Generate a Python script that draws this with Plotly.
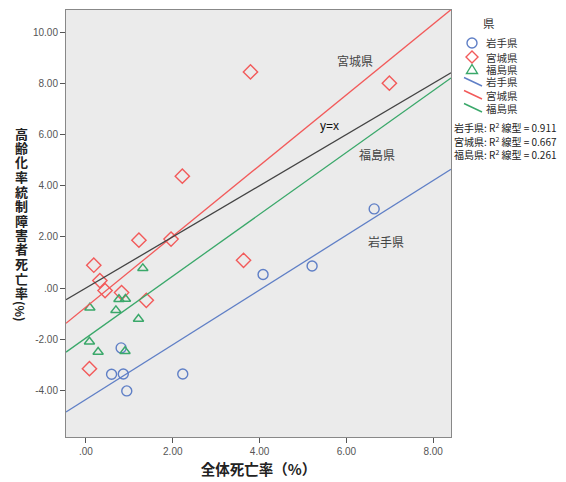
import numpy as np
import plotly.graph_objects as go

# ---- data ----
iwate_x = [6.64, 5.21, 4.08, 0.81, 0.59, 0.86, 2.23, 0.94]
iwate_y = [3.09, 0.86, 0.53, -2.34, -3.37, -3.36, -3.36, -4.02]

miyagi_x = [3.79, 6.99, 2.22, 1.22, 1.96, 0.18, 0.32, 0.44, 0.82, 1.39, 3.63, 0.08]
miyagi_y = [8.44, 8.00, 4.37, 1.87, 1.91, 0.89, 0.29, -0.10, -0.18, -0.48, 1.08, -3.15]

fukushima_x = [1.31, 0.09, 0.76, 0.91, 0.69, 1.21, 0.08, 0.28, 0.90]
fukushima_y = [0.77, -0.77, -0.44, -0.43, -0.87, -1.21, -2.10, -2.50, -2.47]

prefectures = ["岩手県", "宮城県", "福島県"]
r2_values = ["0.911", "0.667", "0.261"]

x_ticks = [0, 2, 4, 6, 8]
x_ticktext = [".00", "2.00", "4.00", "6.00", "8.00"]
y_ticks = [-4, -2, 0, 2, 4, 6, 8, 10]
y_ticktext = ["-4.00", "-2.00", ".00", "2.00", "4.00", "6.00", "8.00", "10.00"]

x_range = [-0.46, 8.41]
y_range = [-5.82, 10.86]

blue = "#5f7fc6"
red = "#f25a5a"
green = "#3aa86a"
colors = [blue, red, green]

# page geometry (browser body has an 8px margin)
OFF = 8
PL, PR, PT, PB = 66, 451, 10, 437   # plot area in page pixels
W, H = 566 - OFF, 482 - OFF


def pp(px, py):
    """page pixel -> paper coords"""
    return (px - PL) / (PR - PL), 1 - (py - PT) / (PB - PT)


fig = go.Figure()

fig.add_trace(go.Scatter(x=iwate_x, y=iwate_y, mode="markers", name="岩手県",
                         marker=dict(symbol="circle-open", size=10, color=blue, line=dict(width=1.4))))
fig.add_trace(go.Scatter(x=miyagi_x, y=miyagi_y, mode="markers", name="宮城県",
                         marker=dict(symbol="diamond-open", size=11, color=red, line=dict(width=1.4))))
fig.add_trace(go.Scatter(x=fukushima_x, y=fukushima_y, mode="markers", name="福島県",
                         marker=dict(symbol="triangle-up-open", size=9, color=green, line=dict(width=1.4))))

xx = np.array(x_range)
for xs, ys, nm, c in [(iwate_x, iwate_y, "岩手県", blue),
                      (miyagi_x, miyagi_y, "宮城県", red),
                      (fukushima_x, fukushima_y, "福島県", green)]:
    k, b = np.polyfit(xs, ys, 1)
    fig.add_trace(go.Scatter(x=xx, y=k * xx + b, mode="lines", name=nm,
                             line=dict(color=c, width=1.3)))

fig.add_trace(go.Scatter(x=xx, y=xx, mode="lines", name="y=x",
                         line=dict(color="#444444", width=1.3)))

fig.update_layout(
    width=W, height=H,
    margin=dict(l=PL - OFF, r=W - (PR - OFF), t=PT - OFF, b=H - (PB - OFF), autoexpand=False),
    paper_bgcolor="white",
    plot_bgcolor="#ebebeb",
    font=dict(family="Noto Sans CJK JP, Arial", size=11, color="#333333"),
    showlegend=False,
    xaxis=dict(range=x_range, tickvals=x_ticks, ticktext=x_ticktext, showgrid=False,
               zeroline=False, showline=True, linecolor="#888888", mirror=True,
               ticks="outside", ticklen=5, tickcolor="#555555",
               tickfont=dict(family="Arial", size=10, color="#555555"),
               title=dict(text="<b>全体死亡率（%）</b>", font=dict(size=14.5, color="#222222"), standoff=8)),
    yaxis=dict(range=y_range, tickvals=y_ticks, ticktext=y_ticktext, showgrid=False,
               zeroline=False, showline=True, linecolor="#888888", mirror=True,
               ticks="outside", ticklen=5, tickcolor="#555555",
               tickfont=dict(family="Arial", size=10, color="#555555")),
)

# vertical y-axis title (upright CJK characters stacked)
ytitle = "高齢化率統制障害者死亡率"
for i, ch in enumerate(ytitle):
    ax_, ay_ = pp(21, 133 + 14.5 * i)
    fig.add_annotation(text="<b>" + ch + "</b>", xref="paper", yref="paper", x=ax_, y=ay_,
                       xanchor="center", yanchor="middle", showarrow=False,
                       font=dict(size=13, color="#222222"))
ax_, ay_ = pp(21, 311)
fig.add_annotation(text="<b>(%)</b>", xref="paper", yref="paper", x=ax_, y=ay_,
                   xanchor="center", yanchor="middle", showarrow=False,
                   textangle=90, font=dict(size=12, color="#222222"))

# labels inside plot
for txt, ax, ay in [("宮城県", 6.20, 8.87), ("y=x", 5.62, 6.33), ("福島県", 6.71, 5.23), ("岩手県", 6.91, 1.80)]:
    fig.add_annotation(text=txt, x=ax, y=ay, xref="x", yref="y", showarrow=False,
                       font=dict(size=12, color="#111111" if txt == "y=x" else "#444444",
                                 family="Arial, Noto Sans CJK JP" if txt == "y=x" else "Noto Sans CJK JP"))

# ---- legend (drawn manually to match the compact layout) ----
tx, ty = pp(489, 23)
fig.add_annotation(text="県", xref="paper", yref="paper", x=tx, y=ty, showarrow=False,
                   xanchor="center", yanchor="middle", font=dict(size=11.5, color="#333333"))

sym_y = [43, 57, 69.5]
line_y = [82, 95, 108]
cx = 472
# circle
x0, y0 = pp(cx - 5, sym_y[0] - 5)
x1, y1 = pp(cx + 5, sym_y[0] + 5)
fig.add_shape(type="circle", xref="paper", yref="paper", x0=x0, x1=x1, y0=y1, y1=y0,
              line=dict(color=blue, width=1.4))
# diamond
pts = [pp(cx, sym_y[1] - 6), pp(cx + 6, sym_y[1]), pp(cx, sym_y[1] + 6), pp(cx - 6, sym_y[1])]
fig.add_shape(type="path", xref="paper", yref="paper",
              path="M " + " L ".join(f"{a},{b}" for a, b in pts) + " Z",
              line=dict(color=red, width=1.4))
# triangle
pts = [pp(cx, sym_y[2] - 5), pp(cx + 5.5, sym_y[2] + 4), pp(cx - 5.5, sym_y[2] + 4)]
fig.add_shape(type="path", xref="paper", yref="paper",
              path="M " + " L ".join(f"{a},{b}" for a, b in pts) + " Z",
              line=dict(color=green, width=1.4))
# lines
for ly, c in zip(line_y, colors):
    x0, y0 = pp(464, ly - 4.5)
    x1, y1 = pp(482, ly + 4)
    fig.add_shape(type="line", xref="paper", yref="paper", x0=x0, y0=y0, x1=x1, y1=y1,
                  line=dict(color=c, width=1.4))

for name, yy in zip(prefectures + prefectures, sym_y + line_y):
    lx, ly = pp(484, yy)
    fig.add_annotation(text=name, xref="paper", yref="paper", x=lx, y=ly, showarrow=False,
                       xanchor="left", yanchor="middle", font=dict(size=10.5, color="#333333"))

# R2 notes
for i, (name, r2) in enumerate(zip(prefectures, r2_values)):
    lx, ly = pp(452, 128 + 13.2 * i)
    fig.add_annotation(text=f"{name}: R<sup>2</sup> 線型 = {r2}", xref="paper", yref="paper",
                       x=lx, y=ly, xanchor="left", yanchor="middle", showarrow=False,
                       font=dict(size=10, color="#222222"))

fig.write_html("out.html")
